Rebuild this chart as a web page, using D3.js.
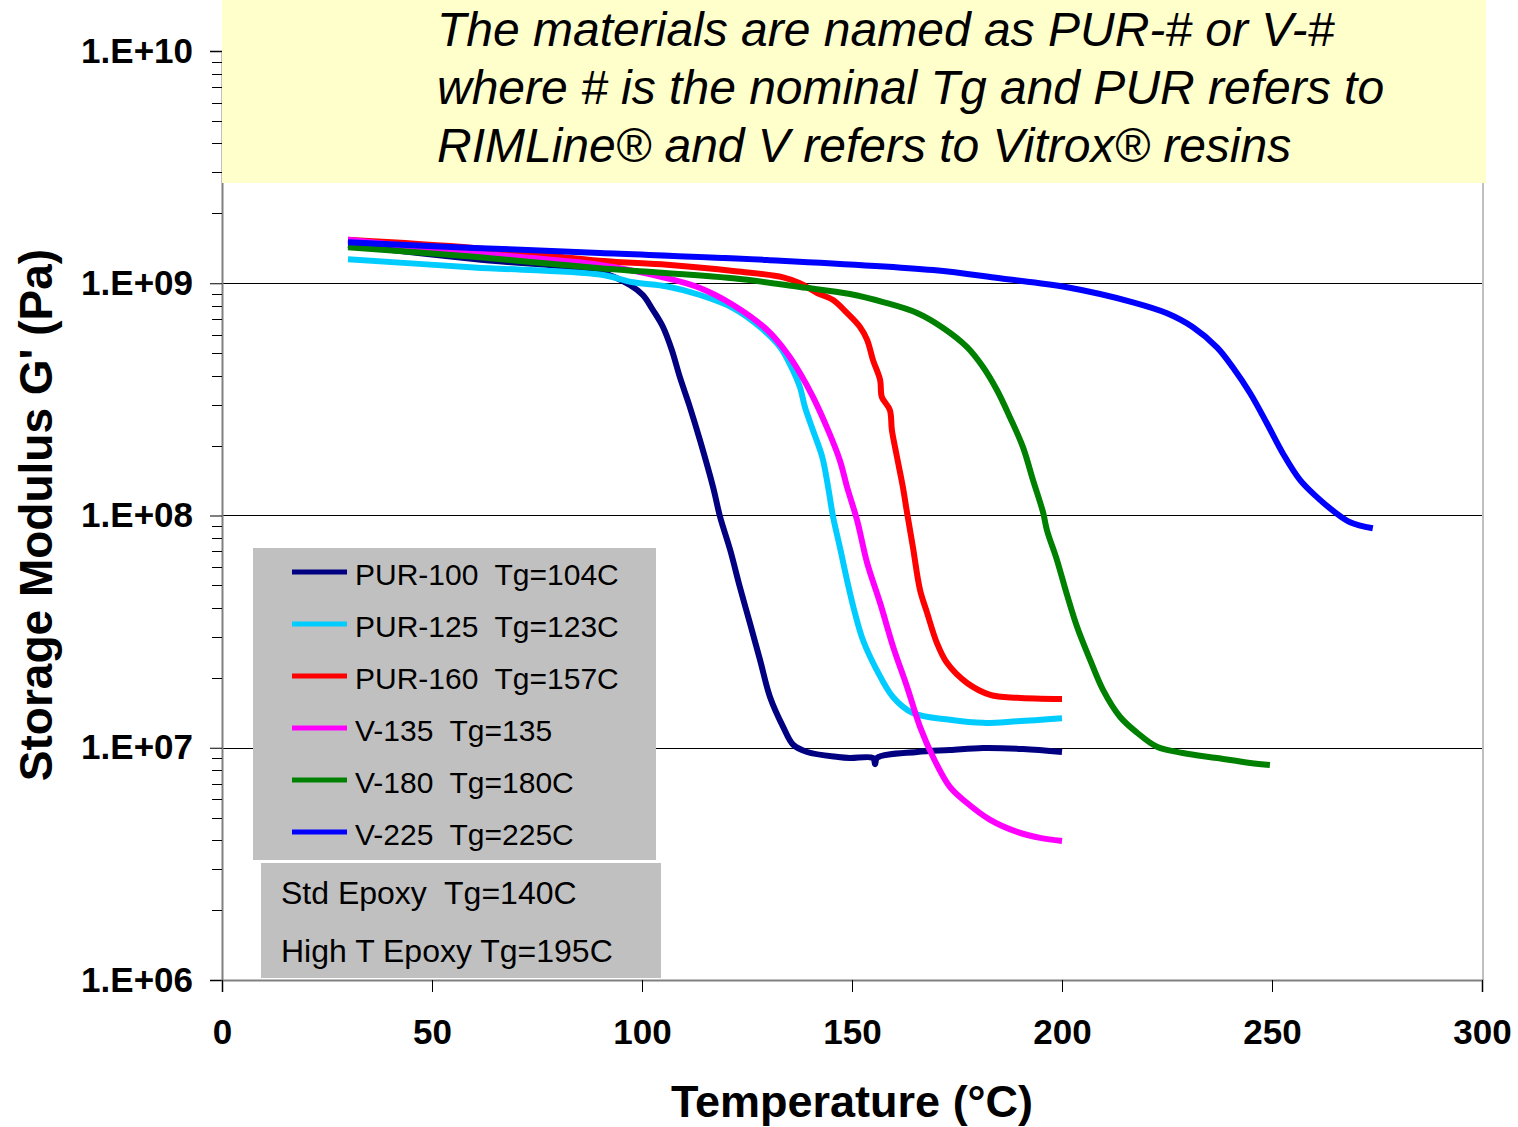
<!DOCTYPE html>
<html><head><meta charset="utf-8">
<script src="https://cdn.jsdelivr.net/npm/d3@7"></script>
<style>body{margin:0;background:#fff;} text{font-family:Arial,"Liberation Sans",sans-serif;}</style>
</head><body>
<svg id="c" width="1518" height="1127"></svg>
<script>
// ---- data ----
const seriesNames = ["PUR-100  Tg=104C","PUR-125  Tg=123C","PUR-160  Tg=157C","V-135  Tg=135","V-180  Tg=180C","V-225  Tg=225C"];
const seriesColors = ["#000080","#00CCFF","#FF0000","#FF00FF","#008000","#0000FF"];
const pur100 = [[30,1.46e9],[60,1.27e9],[90,1.12e9],[97.1,9.83e8],[100.2,8.90e8],[102.6,7.67e8],[105,6.48e8],[107.1,5.16e8],[109,3.95e8],[111.4,2.93e8],[113.8,2.11e8],[116.9,1.33e8],[118.6,9.85e7],[121,7.10e7],[123.3,4.92e7],[125.7,3.44e7],[128.1,2.39e7],[130.5,1.65e7],[133.6,1.23e7],[136,1.03e7],[139.3,9.59e6],[146.7,9.12e6],[149.5,9.03e6],[155,9.03e6],[155.5,8.5e6],[156,9.05e6],[165.5,9.59e6],[173.3,9.78e6],[181.2,9.98e6],[190.7,9.88e6],[200,9.59e6]];
const pur125 = [[30,1.27e9],[60,1.17e9],[90,1.09e9],[97.9,1.01e9],[106,9.68e8],[113.8,8.90e8],[121.7,7.82e8],[128.1,6.48e8],[132.9,5.31e8],[135.9,4.23e8],[137.6,3.57e8],[138.8,2.93e8],[140.7,2.33e8],[142.9,1.79e8],[144.3,1.33e8],[145.5,9.85e7],[147.1,7.32e7],[148.8,5.28e7],[150.7,3.80e7],[152.6,2.91e7],[155.9,2.16e7],[159.8,1.65e7],[164.5,1.41e7],[173.3,1.32e7],[181.2,1.28e7],[189.3,1.30e7],[200,1.34e7]];
const pur160 = [[30,1.54e9],[60,1.42e9],[90,1.25e9],[106,1.20e9],[121.7,1.13e9],[133.6,1.06e9],[137.6,1.00e9],[141.7,9.08e8],[145.5,8.47e8],[148.8,7.45e8],[151.9,6.48e8],[153.6,5.70e8],[155,4.67e8],[156.7,3.83e8],[157.1,3.24e8],[159,2.85e8],[159.5,2.33e8],[160.7,1.79e8],[162.1,1.33e8],[163.1,1.03e8],[164.5,7.32e7],[166.2,4.78e7],[167.9,3.80e7],[170.2,2.83e7],[172.6,2.32e7],[177.4,1.90e7],[182.9,1.69e7],[189.3,1.64e7],[200,1.62e7]];
const v135 = [[30,1.54e9],[60,1.35e9],[90,1.20e9],[106,1.05e9],[113.8,9.54e8],[121.7,8.06e8],[129.8,6.29e8],[134.5,5.01e8],[137.6,4.11e8],[140.7,3.24e8],[144,2.40e8],[147.1,1.73e8],[148.8,1.33e8],[151.2,9.56e7],[153.6,6.25e7],[156.7,4.20e7],[159.8,2.72e7],[163.1,1.83e7],[166.2,1.23e7],[169.3,9.12e6],[173.3,6.78e6],[177.4,5.78e6],[182.9,4.89e6],[189.3,4.34e6],[194.8,4.09e6],[200,3.97e6]];
const v180 = [[30,1.43e9],[60,1.30e9],[90,1.16e9],[121.7,1.05e9],[137.6,9.64e8],[149.5,8.99e8],[157.4,8.30e8],[165.5,7.45e8],[171.7,6.42e8],[177.4,5.31e8],[181.2,4.36e8],[184.5,3.47e8],[187.6,2.65e8],[190.7,1.97e8],[193.1,1.42e8],[195.5,1.03e8],[196.4,8.66e7],[198.8,6.43e7],[201.2,4.55e7],[203.6,3.31e7],[206.7,2.39e7],[209.8,1.77e7],[213.8,1.36e7],[217.9,1.16e7],[222.6,1.01e7],[228.8,9.49e6],[236.9,9.03e6],[244.8,8.60e6],[249.5,8.43e6]];
const v225 = [[30,1.50e9],[60,1.42e9],[90,1.35e9],[129.8,1.26e9],[169.3,1.14e9],[185.2,1.05e9],[201.2,9.61e8],[216.9,8.28e8],[225,7.43e8],[231.2,6.47e8],[236.9,5.30e8],[240.7,4.34e8],[244.8,3.36e8],[248.8,2.49e8],[252.6,1.85e8],[256.7,1.42e8],[260.7,1.20e8],[264.5,1.05e8],[268.6,9.36e7],[274,8.81e7]];
const seriesData = [pur100,pur125,pur160,v135,v180,v225];
const xTicks = [0,50,100,150,200,250,300];
const yTicks = [1e6,1e7,1e8,1e9,1e10];
const yTickLabels = ["1.E+06","1.E+07","1.E+08","1.E+09","1.E+10"];
const gridVals = [1e7,1e8,1e9];
const noteLines = ["The materials are named as PUR-# or V-#","where # is the nominal Tg and PUR refers to","RIMLine® and V refers to Vitrox® resins"];
const epoxyNotes = ["Std Epoxy  Tg=140C","High T Epoxy Tg=195C"];

// ---- chart ----
const svg = d3.select("#c");
const x = d3.scaleLinear().domain([0,300]).range([222,1482]);
const y = d3.scaleLog().domain([1e6,1e10]).range([980,51]);

svg.append("line").attr("x1",1483).attr("x2",1483).attr("y1",51).attr("y2",980).attr("stroke","#c0c0c0").attr("stroke-width",2);
svg.selectAll(".grid").data(gridVals).enter().append("line")
  .attr("x1",222).attr("x2",1482).attr("y1",d=>Math.round(y(d))+0.5).attr("y2",d=>Math.round(y(d))+0.5)
  .attr("stroke","#000").attr("stroke-width",1);

const yAxis = d3.axisLeft(y).tickValues(yTicks).tickFormat((d,i)=>yTickLabels[i]).tickSize(12).tickPadding(17);
const ga = svg.append("g").attr("transform","translate(222,0)").call(yAxis);
ga.select(".domain").attr("stroke","#808080").attr("stroke-width",2);
ga.selectAll(".tick line").attr("stroke","#000");
ga.selectAll("text").attr("font-size",35).attr("font-weight","bold").attr("fill","#000").attr("font-family","Arial, Liberation Sans, sans-serif");
const minor = [];
for (let e=6;e<10;e++) for (let m=2;m<=9;m++) minor.push(m*Math.pow(10,e));
svg.selectAll(".minor").data(minor).enter().append("line")
  .attr("x1",212).attr("x2",222).attr("y1",d=>Math.round(y(d))+0.5).attr("y2",d=>Math.round(y(d))+0.5)
  .attr("stroke","#000");

const xAxis = d3.axisBottom(x).tickValues(xTicks).tickSize(12).tickPadding(27).tickFormat(d3.format("d"));
const gx = svg.append("g").attr("transform","translate(0,980)").call(xAxis);
gx.select(".domain").attr("stroke","#808080").attr("stroke-width",2);
gx.selectAll("text").attr("font-size",35).attr("font-weight","bold").attr("fill","#000").attr("font-family","Arial, Liberation Sans, sans-serif");

svg.append("text").attr("x",852).attr("y",1117).attr("text-anchor","middle").attr("font-size",45).attr("font-weight","bold").text("Temperature (°C)");
svg.append("text").attr("transform","translate(52,515) rotate(-90)").attr("text-anchor","middle").attr("font-size",46).attr("font-weight","bold").text("Storage Modulus G' (Pa)");

const line = d3.line().x(d=>x(d[0])).y(d=>y(d[1])).curve(d3.curveCatmullRom.alpha(0.5));
seriesData.forEach((s,i)=>{
  svg.append("path").datum(s).attr("d",line).attr("fill","none").attr("stroke",seriesColors[i]).attr("stroke-width",6).attr("stroke-linejoin","round");
});

svg.append("rect").attr("x",222).attr("y",0).attr("width",1264).attr("height",183).attr("fill","#FFFFCC");
noteLines.forEach((t,i)=>{
  svg.append("text").attr("x",437).attr("y",46+58*i).attr("font-size",48).attr("font-style","italic").text(t);
});

svg.append("rect").attr("x",253).attr("y",548).attr("width",403).attr("height",312).attr("fill","#C0C0C0");
seriesNames.forEach((n,i)=>{
  const ly = 572+52*i;
  svg.append("line").attr("x1",292).attr("x2",347).attr("y1",ly).attr("y2",ly).attr("stroke",seriesColors[i]).attr("stroke-width",5);
  svg.append("text").attr("x",355).attr("y",ly+13).attr("font-size",30).style("white-space","pre").text(n);
});
svg.append("rect").attr("x",261).attr("y",863).attr("width",400).attr("height",115).attr("fill","#C0C0C0");
epoxyNotes.forEach((t,i)=>{
  svg.append("text").attr("x",281).attr("y",904+58*i).attr("font-size",32).style("white-space","pre").text(t);
});
</script>
</body></html>
